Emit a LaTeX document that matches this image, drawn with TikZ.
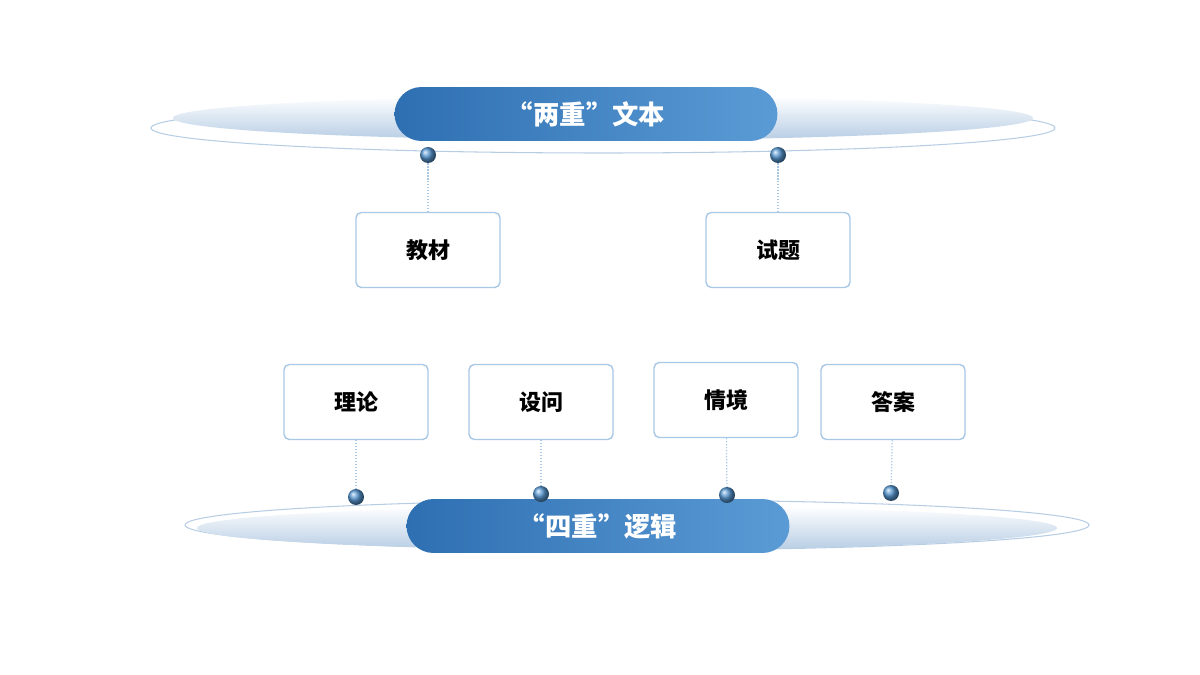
\documentclass[tikz,border=0pt]{standalone}
\usepackage{fontspec}
\setmainfont{Noto Sans CJK SC}
\usetikzlibrary{shadings}
\definecolor{dk}{HTML}{2E6FB2}
\definecolor{lt}{HTML}{5B9BD5}
\definecolor{bd}{HTML}{A9C8E6}
\definecolor{pale}{HTML}{B7CDE4}
\begin{document}
\begin{tikzpicture}[x=0.02cm,y=-0.02cm,
 box/.style={draw=bd,line width=0.8pt,rounded corners=3pt,fill=white,minimum width=2.88cm,minimum height=1.5cm,font=\fontsize{12.5}{14}\selectfont\bfseries},
 pill/.style={rounded corners=0.54cm,left color=dk,right color=lt,draw=none,minimum width=7.66cm,minimum height=1.08cm,text=white,font=\fontsize{15}{17}\selectfont\bfseries},
 dot/.style={circle,ball color=lt!90!dk,draw=none,minimum size=0.32cm,inner sep=0pt},
 link/.style={draw=bd,densely dotted,line width=0.7pt}]
\useasboundingbox (0,0) rectangle (1200,675);
% top
\draw[pale,line width=0.6pt] (603,128) ellipse [x radius=452, y radius=25];
\shade[top color=white,bottom color=pale] (603,118) ellipse [x radius=430, y radius=22];
\node[pill] (t) at (586,114) {“两重”文本};
\node[dot] (d1) at (428,155) {};
\node[dot] (d2) at (778,155) {};
\node[box] (b1) at (428,250) {教材};
\node[box] (b2) at (778,250) {试题};
\draw[link] (d1) -- (b1);
\draw[link] (d2) -- (b2);
% bottom
\draw[pale,line width=0.6pt] (637,525) ellipse [x radius=452, y radius=25];
\shade[top color=white,bottom color=pale] (627,528) ellipse [x radius=430, y radius=22];
\node[pill] (p) at (598,526) {“四重”逻辑};
\node[box] (c1) at (356,402) {理论};
\node[box] (c2) at (541,402) {设问};
\node[box] (c3) at (726,400) {情境};
\node[box] (c4) at (893,402) {答案};
\node[dot] (e1) at (356,497) {};
\node[dot] (e2) at (541,494) {};
\node[dot] (e3) at (727,495) {};
\node[dot] (e4) at (891,493) {};
\draw[link] (c1) -- (e1);
\draw[link] (c2) -- (e2);
\draw[link] (c3) -- (e3);
\draw[link] (c4) -- (e4);
\end{tikzpicture}
\end{document}
